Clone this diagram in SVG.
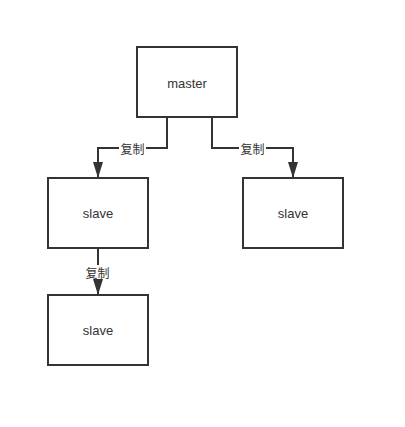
<svg xmlns="http://www.w3.org/2000/svg" width="405" height="427" viewBox="0 0 405 427">
<style>
.box{fill:#fff;stroke:#333;stroke-width:2}
.t{font-family:"Liberation Sans","Noto Sans CJK SC",sans-serif;font-size:13px;fill:#333;text-anchor:middle;dominant-baseline:central}
.l{font-family:"Noto Sans CJK SC",sans-serif;font-size:12px;fill:#333;text-anchor:middle;dominant-baseline:central}
.e{fill:none;stroke:#333;stroke-width:2}
.lb{fill:#fff}
</style>
<defs>
<marker id="ah" viewBox="0 0 16 10" refX="15" refY="5" markerWidth="16" markerHeight="10" markerUnits="userSpaceOnUse" orient="auto">
<path d="M0,0 L16,5 L0,10 Z" fill="#333"/>
</marker>
</defs>
<rect width="405" height="427" fill="#fff"/>
<g id="connectors">
<path class="e" d="M167,118 V148 H98 V177" marker-end="url(#ah)"/>
<path class="e" d="M212,118 V148 H293 V177" marker-end="url(#ah)"/>
<path class="e" d="M98,248 V294" marker-end="url(#ah)"/>
<rect class="lb" x="119" y="141" width="27" height="14"/>
<text class="l" x="132.5" y="148">复制</text>
<rect class="lb" x="239" y="141" width="27" height="14"/>
<text class="l" x="252.5" y="148">复制</text>
<rect class="lb" x="84" y="265" width="27" height="14"/>
<text class="l" x="97.5" y="272">复制</text>
</g>
<g id="master"><rect class="box" x="137" y="47" width="100" height="70"/><text class="t" x="187" y="83">master</text></g>
<g id="slave1"><rect class="box" x="48" y="178" width="100" height="70"/><text class="t" x="98" y="213">slave</text></g>
<g id="slave2"><rect class="box" x="243" y="178" width="100" height="70"/><text class="t" x="293" y="213">slave</text></g>
<g id="slave3"><rect class="box" x="48" y="295" width="100" height="70"/><text class="t" x="98" y="330">slave</text></g>
</svg>
